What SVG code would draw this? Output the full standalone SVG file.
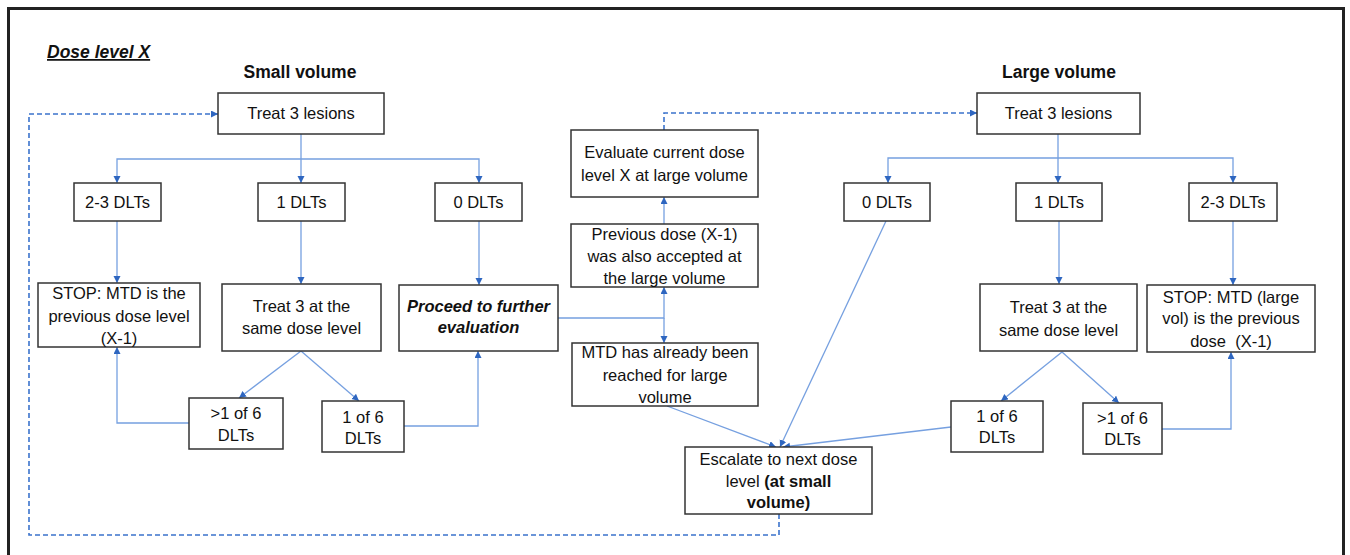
<svg xmlns="http://www.w3.org/2000/svg" width="1350" height="555" viewBox="0 0 1350 555">
<defs>
<style>
.box{fill:#fff;stroke:#333;stroke-width:1.5}
.t{font-family:"Liberation Sans",Arial,sans-serif;font-size:16.5px;fill:#111;text-anchor:middle}
.bi{font-weight:bold;font-style:italic}
.b{font-weight:bold}
.h{font-family:"Liberation Sans",Arial,sans-serif;font-size:17.5px;font-weight:bold;fill:#111}
.c{fill:none;stroke:#76a0e0;stroke-width:1.3}
.d{fill:none;stroke:#3b73cc;stroke-width:1.6;stroke-dasharray:5,3}
</style>
<marker id="a" markerUnits="userSpaceOnUse" markerWidth="8" markerHeight="8" refX="7" refY="3.5" orient="auto"><path d="M0,0 L7,3.5 L0,7 z" fill="#2e66c0"/></marker>
</defs>
<rect width="1350" height="555" fill="#fff"/>
<path d="M8.5,556 V8.5 H1343.5 V556" fill="none" stroke="#222" stroke-width="3"/>
<text class="h" x="47" y="58" font-style="italic" text-decoration="underline">Dose level X</text>
<text class="h" x="300" y="78" text-anchor="middle">Small volume</text>
<text class="h" x="1059" y="78" text-anchor="middle">Large volume</text>
<g id="connectors">
<path class="d" d="M779,514 V535 H29 V114 H218" marker-end="url(#a)"/>
<path class="d" d="M664,130 V113 H977" marker-end="url(#a)"/>
<path class="c" d="M301,134 V183" marker-end="url(#a)"/>
<path class="c" d="M301,159 H117 V183" marker-end="url(#a)"/>
<path class="c" d="M301,159 H479 V183" marker-end="url(#a)"/>
<path class="c" d="M117,221 V283" marker-end="url(#a)"/>
<path class="c" d="M301,221 V284" marker-end="url(#a)"/>
<path class="c" d="M479,221 V285" marker-end="url(#a)"/>
<path class="c" d="M301,351 L239,398" marker-end="url(#a)"/>
<path class="c" d="M301,351 L359,401" marker-end="url(#a)"/>
<path class="c" d="M189,423 H117 V347" marker-end="url(#a)"/>
<path class="c" d="M404,426 H478 V351" marker-end="url(#a)"/>
<path class="c" d="M558,318 H664 V287" marker-end="url(#a)"/>
<path class="c" d="M664,318 V343" marker-end="url(#a)"/>
<path class="c" d="M664,224 V197" marker-end="url(#a)"/>
<path class="c" d="M667,406 L776,447" marker-end="url(#a)"/>
<path class="c" d="M1058,134 V183" marker-end="url(#a)"/>
<path class="c" d="M1058,158 H888 V183" marker-end="url(#a)"/>
<path class="c" d="M1058,158 H1233 V183" marker-end="url(#a)"/>
<path class="c" d="M886,221 L780,447" marker-end="url(#a)"/>
<path class="c" d="M1059,221 V284" marker-end="url(#a)"/>
<path class="c" d="M1233,221 V285" marker-end="url(#a)"/>
<path class="c" d="M1062,352 L1001,401" marker-end="url(#a)"/>
<path class="c" d="M1062,352 L1119,403" marker-end="url(#a)"/>
<path class="c" d="M1162,429 H1231 V352" marker-end="url(#a)"/>
<path class="c" d="M951,427 L783,447" marker-end="url(#a)"/>
</g>
<g id="s_treat"><rect class="box" x="218" y="93" width="166" height="41"/><text class="t" x="301" y="119">Treat 3 lesions</text></g>
<g id="s_23"><rect class="box" x="74" y="183" width="87" height="38"/><text class="t" x="117.5" y="208">2-3 DLTs</text></g>
<g id="s_1"><rect class="box" x="258" y="183" width="87" height="38"/><text class="t" x="301.5" y="208">1 DLTs</text></g>
<g id="s_0"><rect class="box" x="435" y="183" width="87" height="38"/><text class="t" x="478.5" y="208">0 DLTs</text></g>
<g id="s_stop"><rect class="box" x="38" y="283" width="162" height="64"/><text class="t" x="119" y="299">STOP: MTD is the</text><text class="t" x="119" y="322">previous dose level</text><text class="t" x="119" y="344">(X-1)</text></g>
<g id="s_treat3"><rect class="box" x="222" y="284" width="159" height="67"/><text class="t" x="301.5" y="312">Treat 3 at the</text><text class="t" x="301.5" y="334">same dose level</text></g>
<g id="s_proceed"><rect class="box" x="399" y="285" width="159" height="66"/><text class="t bi" x="478.5" y="312">Proceed to further</text><text class="t bi" x="478.5" y="333">evaluation</text></g>
<g id="s_gt1"><rect class="box" x="189" y="398" width="94" height="51"/><text class="t" x="236" y="419">&gt;1 of 6</text><text class="t" x="236" y="441">DLTs</text></g>
<g id="s_1of6"><rect class="box" x="322" y="401" width="82" height="51"/><text class="t" x="363" y="423">1 of 6</text><text class="t" x="363" y="444">DLTs</text></g>
<g id="evaluate"><rect class="box" x="571" y="130" width="187" height="67"/><text class="t" x="664.5" y="158">Evaluate current dose</text><text class="t" x="664.5" y="181">level X at large volume</text></g>
<g id="previous"><rect class="box" x="571" y="224" width="187" height="63"/><text class="t" x="664.5" y="240">Previous dose (X-1)</text><text class="t" x="664.5" y="262">was also accepted at</text><text class="t" x="664.5" y="284">the large volume</text></g>
<g id="mtd"><rect class="box" x="572" y="343" width="186" height="63"/><text class="t" x="665" y="358">MTD has already been</text><text class="t" x="665" y="381">reached for large</text><text class="t" x="665" y="403">volume</text></g>
<g id="escalate"><rect class="box" x="685" y="447" width="187" height="67"/><text class="t" x="778.5" y="465">Escalate to next dose</text><text class="t" x="778.5" y="487">level <tspan class="b">(at small</tspan></text><text class="t b" x="778.5" y="508">volume)</text></g>
<g id="l_treat"><rect class="box" x="977" y="93" width="163" height="41"/><text class="t" x="1058.5" y="119">Treat 3 lesions</text></g>
<g id="l_0"><rect class="box" x="844" y="183" width="86" height="38"/><text class="t" x="887" y="208">0 DLTs</text></g>
<g id="l_1"><rect class="box" x="1016" y="183" width="86" height="38"/><text class="t" x="1059" y="208">1 DLTs</text></g>
<g id="l_23"><rect class="box" x="1189" y="183" width="88" height="38"/><text class="t" x="1233" y="208">2-3 DLTs</text></g>
<g id="l_treat3"><rect class="box" x="980" y="284" width="157" height="67"/><text class="t" x="1058.5" y="313">Treat 3 at the</text><text class="t" x="1058.5" y="336">same dose level</text></g>
<g id="l_stop"><rect class="box" x="1147" y="285" width="168" height="67"/><text class="t" x="1231" y="303">STOP: MTD (large</text><text class="t" x="1231" y="324">vol) is the previous</text><text class="t" x="1231" y="347" xml:space="preserve">dose  (X-1)</text></g>
<g id="l_1of6"><rect class="box" x="951" y="401" width="92" height="51"/><text class="t" x="997" y="422">1 of 6</text><text class="t" x="997" y="443">DLTs</text></g>
<g id="l_gt1"><rect class="box" x="1083" y="403" width="79" height="51"/><text class="t" x="1122.5" y="424">&gt;1 of 6</text><text class="t" x="1122.5" y="445">DLTs</text></g>
</svg>
